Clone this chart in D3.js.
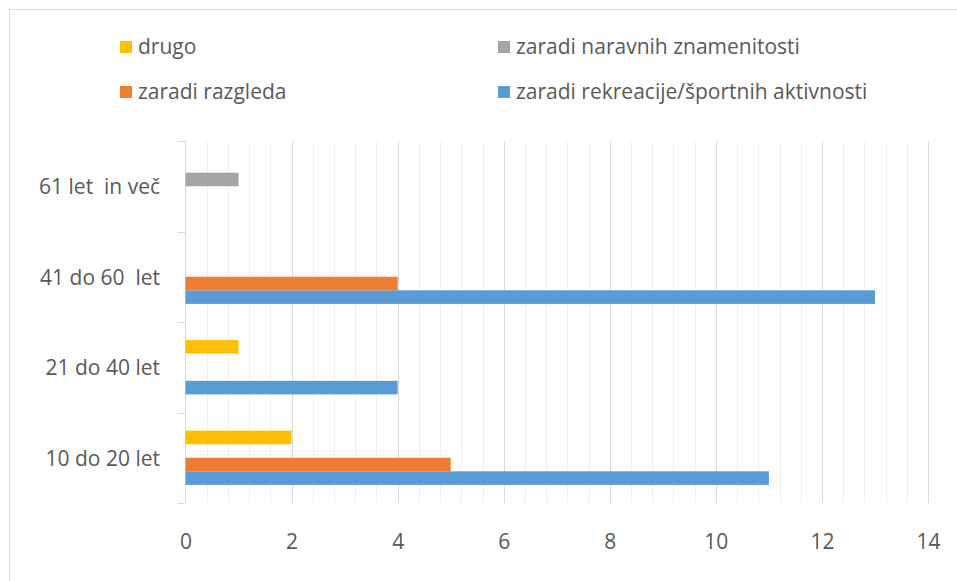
<!DOCTYPE html>
<html><head><meta charset="utf-8">
<script src="https://cdn.jsdelivr.net/npm/d3@7"></script>
<style>
html,body{margin:0;padding:0;background:#fff;}
text{font-family:"Open Sans",sans-serif;fill:#595959;white-space:pre;}
</style></head>
<body>
<svg id="chart" width="957" height="581"></svg>
<script>
const categories = ["10 do 20 let", "21 do 40 let", "41 do 60  let", "61 let  in več"];
const seriesNames = ["zaradi rekreacije/športnih aktivnosti", "zaradi razgleda", "zaradi naravnih znamenitosti", "drugo"];
const rekreacija = [11, 4, 13, 0];
const razgled = [5, 0, 4, 0];
const naravne = [0, 0, 0, 1];
const drugo = [2, 1, 0, 0];
const xTicks = [0, 2, 4, 6, 8, 10, 12, 14];
const colors = ["#5B9BD5", "#ED7D31", "#A5A5A5", "#FFC000"];

(function () {
const seriesValues = [rekreacija, razgled, naravne, drugo];
const FS = 21;

const svg = d3.select("#chart");
svg.append("rect").attr("x", 9.5).attr("y", 9.5).attr("width", 1000).attr("height", 1000)
  .attr("fill", "none").attr("stroke", "#d9d9d9").attr("stroke-width", 1);

const pL = 185.5, pR = 928, pT = 141, pB = 503;
const x = d3.scaleLinear().domain([0, 14]).range([pL, pR]);
const y = d3.scaleBand().domain(categories.slice().reverse()).range([pT, pB]);
const inner = d3.scaleBand().domain(seriesNames.slice().reverse())
  .range([0.2 * y.bandwidth(), 0.8 * y.bandwidth()]);

const minor = d3.range(0, 14.0001, 0.4).filter(v => Math.abs(v / 2 - Math.round(v / 2)) > 1e-6);
svg.append("g").selectAll("line").data(minor).join("line")
  .attr("x1", d => Math.round(x(d)) + 0.5).attr("x2", d => Math.round(x(d)) + 0.5)
  .attr("y1", pT).attr("y2", pB).attr("stroke", "#f0f0f0").attr("stroke-width", 1);
svg.append("g").selectAll("line").data(xTicks.filter(d => d > 0)).join("line")
  .attr("x1", d => Math.round(x(d)) + 0.5).attr("x2", d => Math.round(x(d)) + 0.5)
  .attr("y1", pT).attr("y2", pB).attr("stroke", "#d9d9d9").attr("stroke-width", 1);

const yAxis = d3.axisLeft(y).tickSize(0).tickFormat("");
const ga = svg.append("g").attr("transform", `translate(${pL},0)`).call(yAxis);
ga.select(".domain").attr("stroke", "#d9d9d9").attr("d", `M0,${pT}V${pB}`);
const bounds = [pT].concat(y.domain().map(c => y(c) + y.bandwidth()));
svg.append("g").selectAll("line").data(bounds).join("line")
  .attr("x1", pL - 8).attr("x2", pL).attr("y1", d => Math.round(d) + 0.5).attr("y2", d => Math.round(d) + 0.5)
  .attr("stroke", "#d9d9d9").attr("stroke-width", 1);

svg.append("g").selectAll("text").data(categories).join("text")
  .attr("x", 160).attr("y", d => y(d) + y.bandwidth() / 2)
  .attr("text-anchor", "end").attr("dominant-baseline", "central")
  .attr("font-size", FS).text(d => d);

const xAxis = d3.axisBottom(x).tickValues(xTicks).tickSize(0).tickPadding(0);
const gx = svg.append("g").attr("transform", `translate(0,${pB})`).call(xAxis);
gx.select(".domain").remove();
gx.selectAll("text").attr("y", 39).attr("dy", "0.35em").attr("font-size", FS)
  .attr("font-family", "Open Sans, sans-serif").attr("fill", "#595959");

seriesNames.forEach((s, si) => {
  svg.append("g").selectAll("rect").data(categories).join("rect")
    .attr("x", x(0))
    .attr("y", (c) => y(c) + inner(s))
    .attr("width", (c, i) => x(seriesValues[si][i]) - x(0))
    .attr("height", inner.bandwidth())
    .attr("fill", colors[si]);
});

const legendItems = [
  { name: "drugo", color: colors[3], lx: 120, ly: 47 },
  { name: "zaradi naravnih znamenitosti", color: colors[2], lx: 498, ly: 47 },
  { name: "zaradi razgleda", color: colors[1], lx: 120, ly: 92 },
  { name: "zaradi rekreacije/športnih aktivnosti", color: colors[0], lx: 498, ly: 92 }
];
const lg = svg.append("g").selectAll("g").data(legendItems).join("g")
  .attr("transform", d => `translate(${d.lx},${d.ly})`);
lg.append("rect").attr("x", 0).attr("y", -6).attr("width", 12).attr("height", 12).attr("fill", d => d.color);
lg.append("text").attr("x", 18).attr("y", -1).attr("dominant-baseline", "central")
  .attr("font-size", FS).text(d => d.name);
})();
</script>
</body></html>
